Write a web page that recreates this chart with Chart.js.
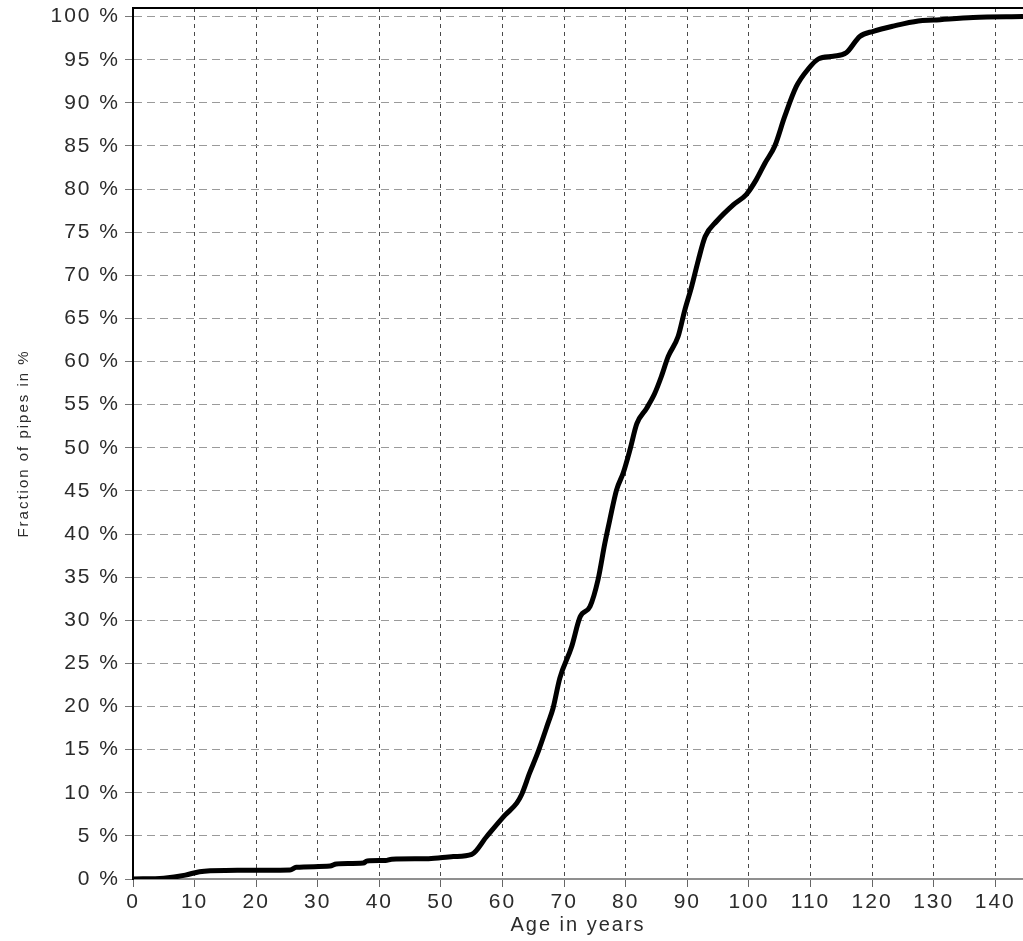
<!DOCTYPE html>
<html>
<head>
<meta charset="utf-8">
<title>Pipe age distribution</title>
<script src="https://cdn.jsdelivr.net/npm/chart.js@4.4.1/dist/chart.umd.min.js"></script>
<style>
    html, body { margin: 0; padding: 0; background: #fff; }
    #wrap { position: relative; width: 1023px; height: 941px; }
</style>
</head>
<body>
<div id="wrap"><canvas id="ageChart"></canvas></div>
<script>
    // cumulative share of pipes by age
    const ages = [0, 5, 8.5, 10.8, 15, 25.5, 26.5, 32, 33, 37.4, 38, 41, 42, 48, 52,
        55, 57.4, 60.4, 62.3, 63.1, 64.4, 65.8, 67.4, 68.2, 69.3, 71.2, 72.6, 74.2,
        75.5, 76.6, 77.4, 78.5, 79.6, 80.7, 81.8, 83.4, 84.7, 85.8, 86.9, 88.5, 89.6,
        90.7, 91.8, 92.9, 94.8, 97.5, 99.6, 101.2, 102.6, 104.2, 105.8, 107.7, 109.6,
        111.3, 113.7, 115.8, 118, 120.2, 123.4, 127.5, 130, 136.4, 144.5];
    const fractions = [0, 0.1, 0.45, 0.85, 1.0, 1.05, 1.35, 1.5, 1.75, 1.85, 2.1, 2.15, 2.3, 2.35, 2.6,
        2.85, 4.9, 7.4, 8.8, 9.8, 12.3, 14.8, 18.1, 19.8, 23.3, 26.9, 30.4, 31.6,
        34.7, 38.9, 41.6, 45.1, 47.1, 49.8, 52.8, 54.6, 56.3, 58.3, 60.6, 62.9, 66.0,
        68.7, 71.8, 74.5, 76.3, 78.2, 79.4, 81.1, 83.0, 85.0, 88.4, 91.9, 93.9,
        95.1, 95.4, 95.8, 97.7, 98.3, 98.9, 99.5, 99.6, 99.9, 100];

    const xTitle = 'Age in years';
    const yTitle = 'Fraction of pipes in %';

    const points = ages.map((a, i) => ({ x: a, y: fractions[i] }));

    // wide text + black line along the top of the plot
    const framePlugin = {
        id: 'frame',
        beforeDraw(chart) {
            chart.ctx.letterSpacing = '2px';
        },
        afterDraw(chart) {
            const { ctx, chartArea } = chart;
            ctx.save();
            ctx.strokeStyle = '#000';
            ctx.lineWidth = 2;
            ctx.beginPath();
            ctx.moveTo(chartArea.left, chartArea.top);
            ctx.lineTo(chartArea.right, chartArea.top);
            ctx.stroke();
            ctx.restore();
            ctx.letterSpacing = '0px';
        }
    };

    const ctx = document.getElementById('ageChart').getContext('2d');
    const ageChart = new Chart(ctx, {
        type: 'line',
        data: {
            datasets: [{
                data: points,
                borderColor: '#000',
                borderWidth: 5,
                pointRadius: 0,
                fill: false,
                cubicInterpolationMode: 'monotone'
            }]
        },
        options: {
            responsive: true,
            maintainAspectRatio: false,
            animation: false,
            layout: { padding: { top: 8, right: 0, bottom: 0, left: 0 } },
            plugins: {
                legend: { display: false },
                tooltip: { enabled: false }
            },
            scales: {
                x: {
                    type: 'linear',
                    min: 0,
                    max: 144.5,
                    afterFit(scale) {
                        scale.height = 62;
                        scale.paddingLeft = 0;
                        scale.paddingRight = 0;
                    },
                    ticks: {
                        stepSize: 10,
                        includeBounds: false,
                        maxRotation: 0,
                        padding: 3,
                        color: '#2b2b2b',
                        font: { family: 'Liberation Sans, Arial, sans-serif', size: 21 }
                    },
                    grid: {
                        color: '#4a4a4a',
                        lineWidth: 1,
                        tickLength: 8,
                        tickBorderDash: [],
                        tickColor: '#666'
                    },
                    border: { display: true, color: '#8f8f8f', width: 2, dash: [4, 4] },
                    title: {
                        display: true,
                        text: xTitle,
                        color: '#2b2b2b',
                        padding: { top: 0, bottom: 4 },
                        font: { family: 'Liberation Sans, Arial, sans-serif', size: 20 }
                    }
                },
                y: {
                    min: 0,
                    max: 101,
                    afterFit(scale) {
                        scale.width = 133;
                        scale.paddingTop = 0;
                        scale.paddingBottom = 0;
                    },
                    ticks: {
                        stepSize: 5,
                        includeBounds: false,
                        padding: 5,
                        color: '#2b2b2b',
                        font: { family: 'Liberation Sans, Arial, sans-serif', size: 21 },
                        callback: v => v + ' %'
                    },
                    grid: {
                        color: '#9a9a9a',
                        lineWidth: 1,
                        tickLength: 8,
                        tickBorderDash: [],
                        tickColor: '#777'
                    },
                    border: { display: true, color: '#000', width: 2, dash: [8, 5] },
                    title: {
                        display: true,
                        text: yTitle,
                        color: '#2b2b2b',
                        padding: { top: 15, bottom: 0 },
                        font: { family: 'Liberation Sans, Arial, sans-serif', size: 15 }
                    }
                }
            }
        },
        plugins: [framePlugin]
    });
</script>
</body>
</html>
